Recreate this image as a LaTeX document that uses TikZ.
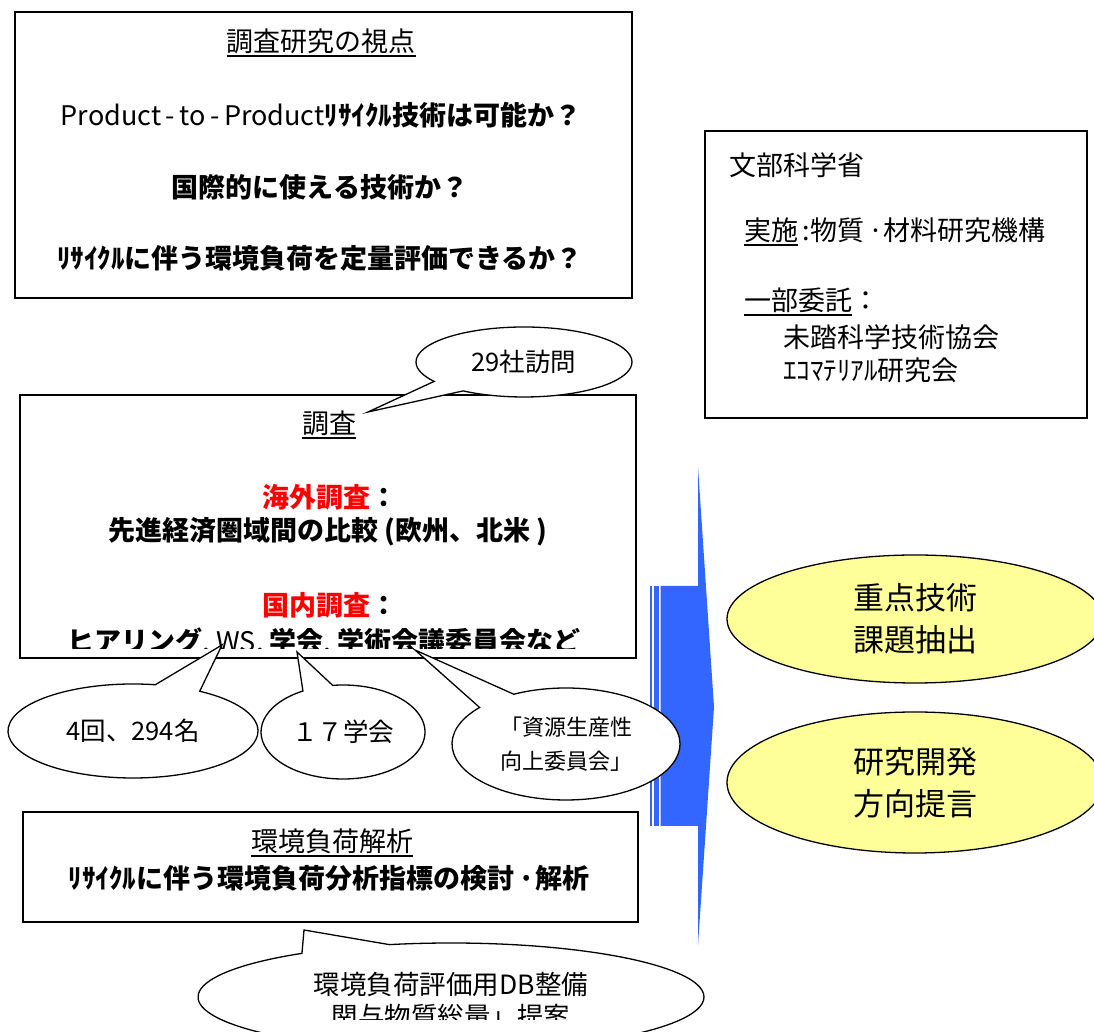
\documentclass[tikz,border=0pt]{standalone}
\usepackage{fontspec}
\setmainfont{Noto Sans CJK JP}
\usetikzlibrary{shapes.geometric,shapes.callouts}

\definecolor{goalyellow}{HTML}{FFFF99}
\definecolor{arrowblue}{HTML}{3366FF}
\definecolor{surveyred}{HTML}{FF0000}

\newcommand{\ulbar}[1]{\setbox0\hbox{#1}\rlap{\rule[-5pt]{\wd0}{2.2pt}}\box0}

\tikzset{
  box/.style={draw, rectangle, line width=1.8pt, inner sep=0pt},
  txt/.style={inner sep=0pt, font=\fontsize{27}{32}\selectfont},
  bubble/.style={ellipse callout, draw, line width=1.3pt, fill=white, inner sep=0pt,
    callout pointer arc=22, font=\fontsize{25.5}{28}\selectfont},
  goal/.style={ellipse, draw, line width=1.3pt, fill=goalyellow, inner sep=0pt,
    align=center, font=\fontsize{31}{42}\selectfont}
}

\begin{document}
\begin{tikzpicture}[x=1pt,y=1pt]
		\clip (0,0) rectangle (1094,1032);
		
		%視点
		\node[box, minimum width=617pt, minimum height=286pt] (view) at (323.5,877) {};
		\node[txt] (viewtitle) at (321,989) {\ulbar{調査研究の視点}};
		\node[txt] (viewq1) at (321,917) {Product\,-\,to\,-\,Product\textbf{ﾘｻｲｸﾙ技術は可能か？}};
		\node[txt] (viewq2) at (320,845) {\textbf{国際的に使える技術か？}};
		\node[txt] (viewq3) at (320,774) {\textbf{ﾘｻｲｸﾙに伴う環境負荷を定量評価できるか？}};
		
		% 体制
		\node[box, minimum width=382pt, minimum height=287pt] (org) at (896,757.5) {};
		\node[txt, anchor=west] (orgmext) at (729,867) {文部科学省};
		\node[txt, anchor=west] (orgnims) at (744,800) {\ulbar{実施}\,:物質\,·材料研究機構};
		\node[txt, anchor=west] (orgpart) at (744,730) {\ulbar{一部委託}：};
		\node[txt, anchor=west] (orgsntt) at (783,695) {未踏科学技術協会};
		\node[txt, anchor=west] (orgeco) at (783,662) {ｴｺﾏﾃﾘｱﾙ研究会};
		
		% 調査
		\node[box, minimum width=616pt, minimum height=263pt] (survey) at (328,505.5) {};
		\node[txt] (surveytitle) at (329,607) {\ulbar{調査}};
		\node[txt] (surveyabroad) at (330,535) {\textbf{\textcolor{surveyred}{海外調査}：}};
		\node[txt] (surveycomp) at (328,500) {\textbf{先進経済圏域間の比較 (欧州、北米 )}};
		\node[txt] (surveyhome) at (330,427) {\textbf{\textcolor{surveyred}{国内調査}：}};
		\begin{scope}
			\clip (21,383) rectangle (635,636);
			\node[txt] (surveylist) at (324,390) {\textbf{ヒアリング}, WS, \textbf{学会}, \textbf{学術会議委員会など}};
		\end{scope}
		
		% 環境負荷解析
		\node[box, minimum width=615pt, minimum height=110pt] (lca) at (330.5,165) {};
		\node[txt] (lcatitle) at (332,189) {\ulbar{環境負荷解析}};
		\node[txt] (lcatext) at (329,154) {\textbf{ﾘｻｲｸﾙに伴う環境負荷分析指標の検討\,·解析}};
		
		% 矢印
		\fill[arrowblue] (660.5,446) -- (698,446) -- (698,565) -- (714,325) -- (698,87)
			-- (698,206) -- (660.5,206) -- cycle;
		\fill[arrowblue] (650,206) rectangle (652.3,446);
		\fill[arrowblue] (654,206) rectangle (659,446);
		
		% 吹き出し
		\coordinate (tip29) at (368,620);
		\coordinate (tipws) at (222,387);
		\coordinate (tipgak) at (297,380);
		\coordinate (tipres) at (415,382);
		\coordinate (tipdb) at (304,102);
		\node[bubble, minimum width=216pt, minimum height=70pt, callout absolute pointer={(tip29)}] (visits) at (524,670) {29社訪問};
		\node[bubble, minimum width=250pt, minimum height=94pt, callout absolute pointer={(tipws)}] (hearing) at (133,301) {4回、294名};
		\node[bubble, minimum width=164pt, minimum height=94pt, callout absolute pointer={(tipgak)}] (societies) at (343,300) {１７学会};
		\node[bubble, minimum width=228pt, minimum height=112pt, callout absolute pointer={(tipres)},
			align=left, font=\fontsize{22}{34}\selectfont] (resource) at (566,288) {「資源生産性\\向上委員会」};
		\node[bubble, minimum width=506pt, minimum height=108pt, callout absolute pointer={(tipdb)}] (database) at (451,35) {};
		\begin{scope}
			\clip (0,12) rectangle (1094,1032);
			\node[txt, align=center, font=\fontsize{26.5}{32}\selectfont] (databasetext) at (451,31) {環境負荷評価用DB整備\\関与物質総量」提案};
		\end{scope}
		
		% 成果
		\node[goal, minimum width=376pt, minimum height=128pt] (keytech) at (915,413) {重点技術\\課題抽出};
		\node[goal, minimum width=376pt, minimum height=141pt] (proposal) at (915,249.5) {研究開発\\方向提言};
	\end{tikzpicture}
\end{document}
